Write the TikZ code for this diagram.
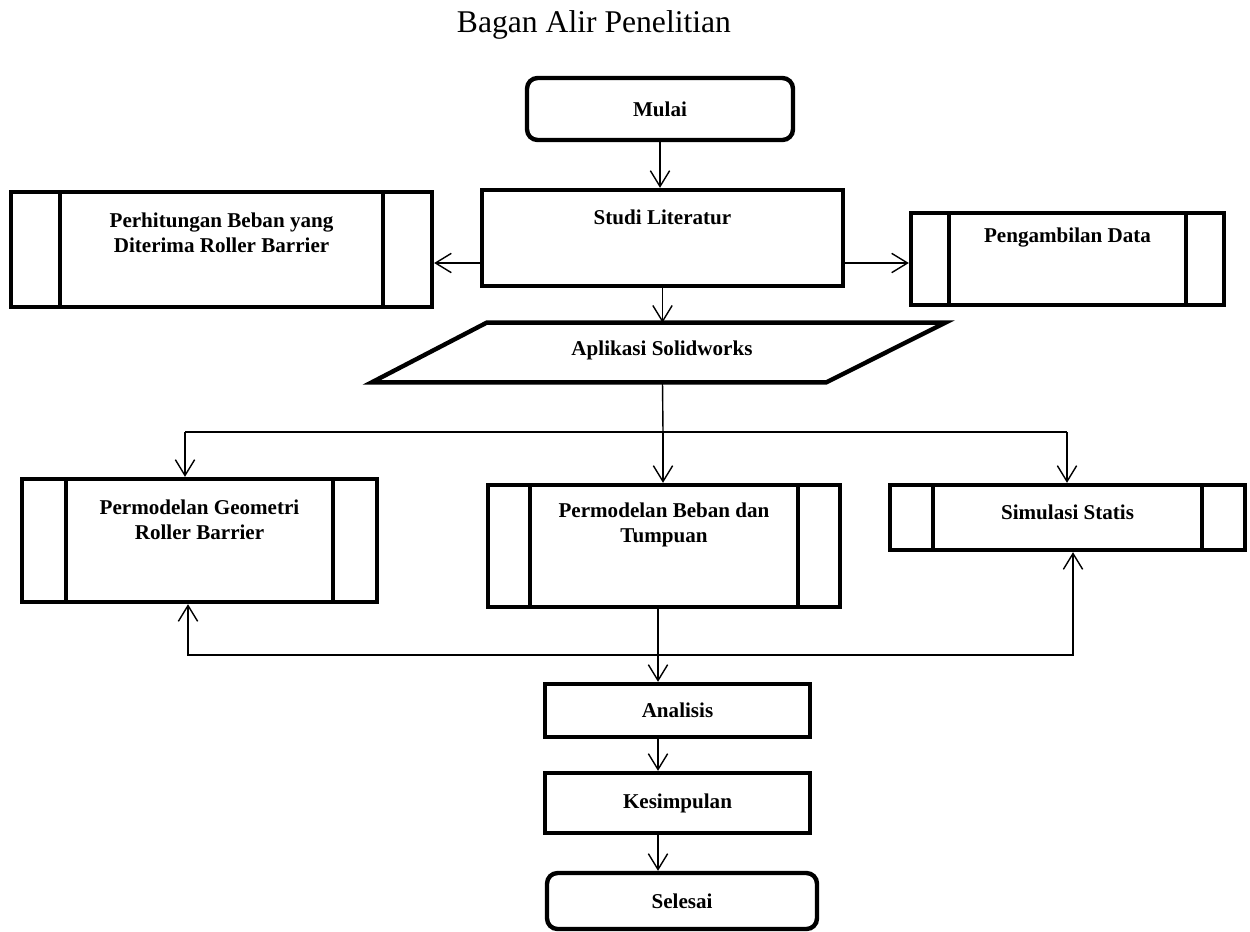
\documentclass[tikz,border=0pt]{standalone}
\usepackage{fontspec}
\setmainfont{Liberation Serif}
\usetikzlibrary{arrows.meta}

\tikzset{
  kotak/.style={draw, line width=2.5pt, inner sep=0pt},
  terminal/.style={kotak, rounded corners=6pt},
  proses/.style={kotak, path picture={
      \draw[line width=2.5pt]
        ([xshift=#1]path picture bounding box.north west) -- ([xshift=#1]path picture bounding box.south west)
        ([xshift=-#1]path picture bounding box.north east) -- ([xshift=-#1]path picture bounding box.south east);}},
  proses/.default=0.88cm,
  teks/.style={font=\bfseries\fontsize{12}{14}\selectfont, align=center},
  panah/.style={-{Straight Barb[length=9pt,width=11pt]}, line width=0.8pt},
  garis/.style={line width=0.8pt},
}

\begin{document}
\begin{tikzpicture}[x=0.02cm, y=-0.02cm]
	\useasboundingbox (0,0) rectangle (1250,931);
	\node[font=\fontsize{18}{21}\selectfont, anchor=base] (judul) at (594,32) {Bagan Alir Penelitian};

	% baris atas
	\node[terminal, teks, minimum width=5.32cm, minimum height=1.24cm] (mulai) at (660,109) {Mulai};
	\node[kotak, minimum width=7.22cm, minimum height=1.92cm] (studi) at (662.5,238) {};
	\node[teks] (tstudi) at (662.5,217) {Studi Literatur};
	\node[proses=0.98cm, minimum width=8.42cm, minimum height=2.3cm] (hitung) at (221.5,249.5) {};
	\node[teks] (thitung) at (221.5,233) {Perhitungan Beban yang\\Diterima Roller Barrier};
	\node[proses=0.76cm, minimum width=6.26cm, minimum height=1.84cm] (ambil) at (1067.5,259) {};
	\node[teks] (tambil) at (1067.5,238) {Pengambilan Data};
	\node[minimum width=11.46cm, minimum height=1.18cm, inner sep=0pt] (aplikasi) at (658.5,352.5) {};
	\node[teks] (taplikasi) at (662,350) {Aplikasi Solidworks};
	\draw[line width=2.5pt] (aplikasi.south west) -- ([xshift=-2.38cm]aplikasi.south east) -- (aplikasi.north east) -- ([xshift=2.3cm]aplikasi.north west) -- cycle;

	% baris tengah
	\node[proses, minimum width=7.1cm, minimum height=2.46cm] (geometri) at (199.5,540.5) {};
	\node[teks] (tgeometri) at (199.5,519.5) {Permodelan Geometri\\Roller Barrier};
	\node[proses=0.84cm, minimum width=7.04cm, minimum height=2.44cm] (beban) at (664,546) {};
	\node[teks] (tbeban) at (664,525) {Permodelan Beban dan\\Tumpuan};
	\node[proses=0.86cm, minimum width=7.1cm, minimum height=1.3cm] (simulasi) at (1067.5,517.5) {};
	\node[teks] (tsimulasi) at (1067.5,512) {Simulasi Statis};

	% baris bawah
	\node[kotak, teks, minimum width=5.3cm, minimum height=1.06cm] (analisis) at (677.5,710.5) {Analisis};
	\node[kotak, teks, minimum width=5.3cm, minimum height=1.2cm] (kesimpulan) at (677.5,803) {Kesimpulan};
	\node[terminal, teks, minimum width=5.4cm, minimum height=1.12cm] (selesai) at (682,901) {Selesai};

	\coordinate (cabang) at (663,432);
	\coordinate (kiri) at (185,432);
	\coordinate (kanan) at (1067,432);
	\coordinate (gabung) at (658,655);
	\coordinate (gkiri) at (188,655);
	\coordinate (gkanan) at (1073,655);

	\draw[panah] (mulai.south) -- (mulai.south |- studi.north);
	\draw[panah] ([yshift=-0.5cm]studi.west) -- ([yshift=-0.5cm]studi.west -| hitung.east);
	\draw[panah] ([yshift=-0.5cm]studi.east) -- ([yshift=-0.5cm]studi.east -| ambil.west);
	\draw[panah] (studi.south) -- (studi.south |- aplikasi.north);
	\draw[garis] (studi.south |- aplikasi.south) -- (cabang);
	\draw[garis] (kiri) -- (kanan);
	\draw[panah] (kiri) -- (kiri |- geometri.north);
	\draw[panah] (cabang) -- (cabang |- beban.north);
	\draw[panah] (kanan) -- (kanan |- simulasi.north);
	\draw[panah] (gabung |- beban.south) -- (gabung |- analisis.north);
	\draw[panah] (gabung) -- (gkiri) -- (gkiri |- geometri.south);
	\draw[panah] (gabung) -- (gkanan) -- (gkanan |- simulasi.south);
	\draw[panah] (gabung |- analisis.south) -- (gabung |- kesimpulan.north);
	\draw[panah] (gabung |- kesimpulan.south) -- (gabung |- selesai.north);
\end{tikzpicture}
\end{document}
